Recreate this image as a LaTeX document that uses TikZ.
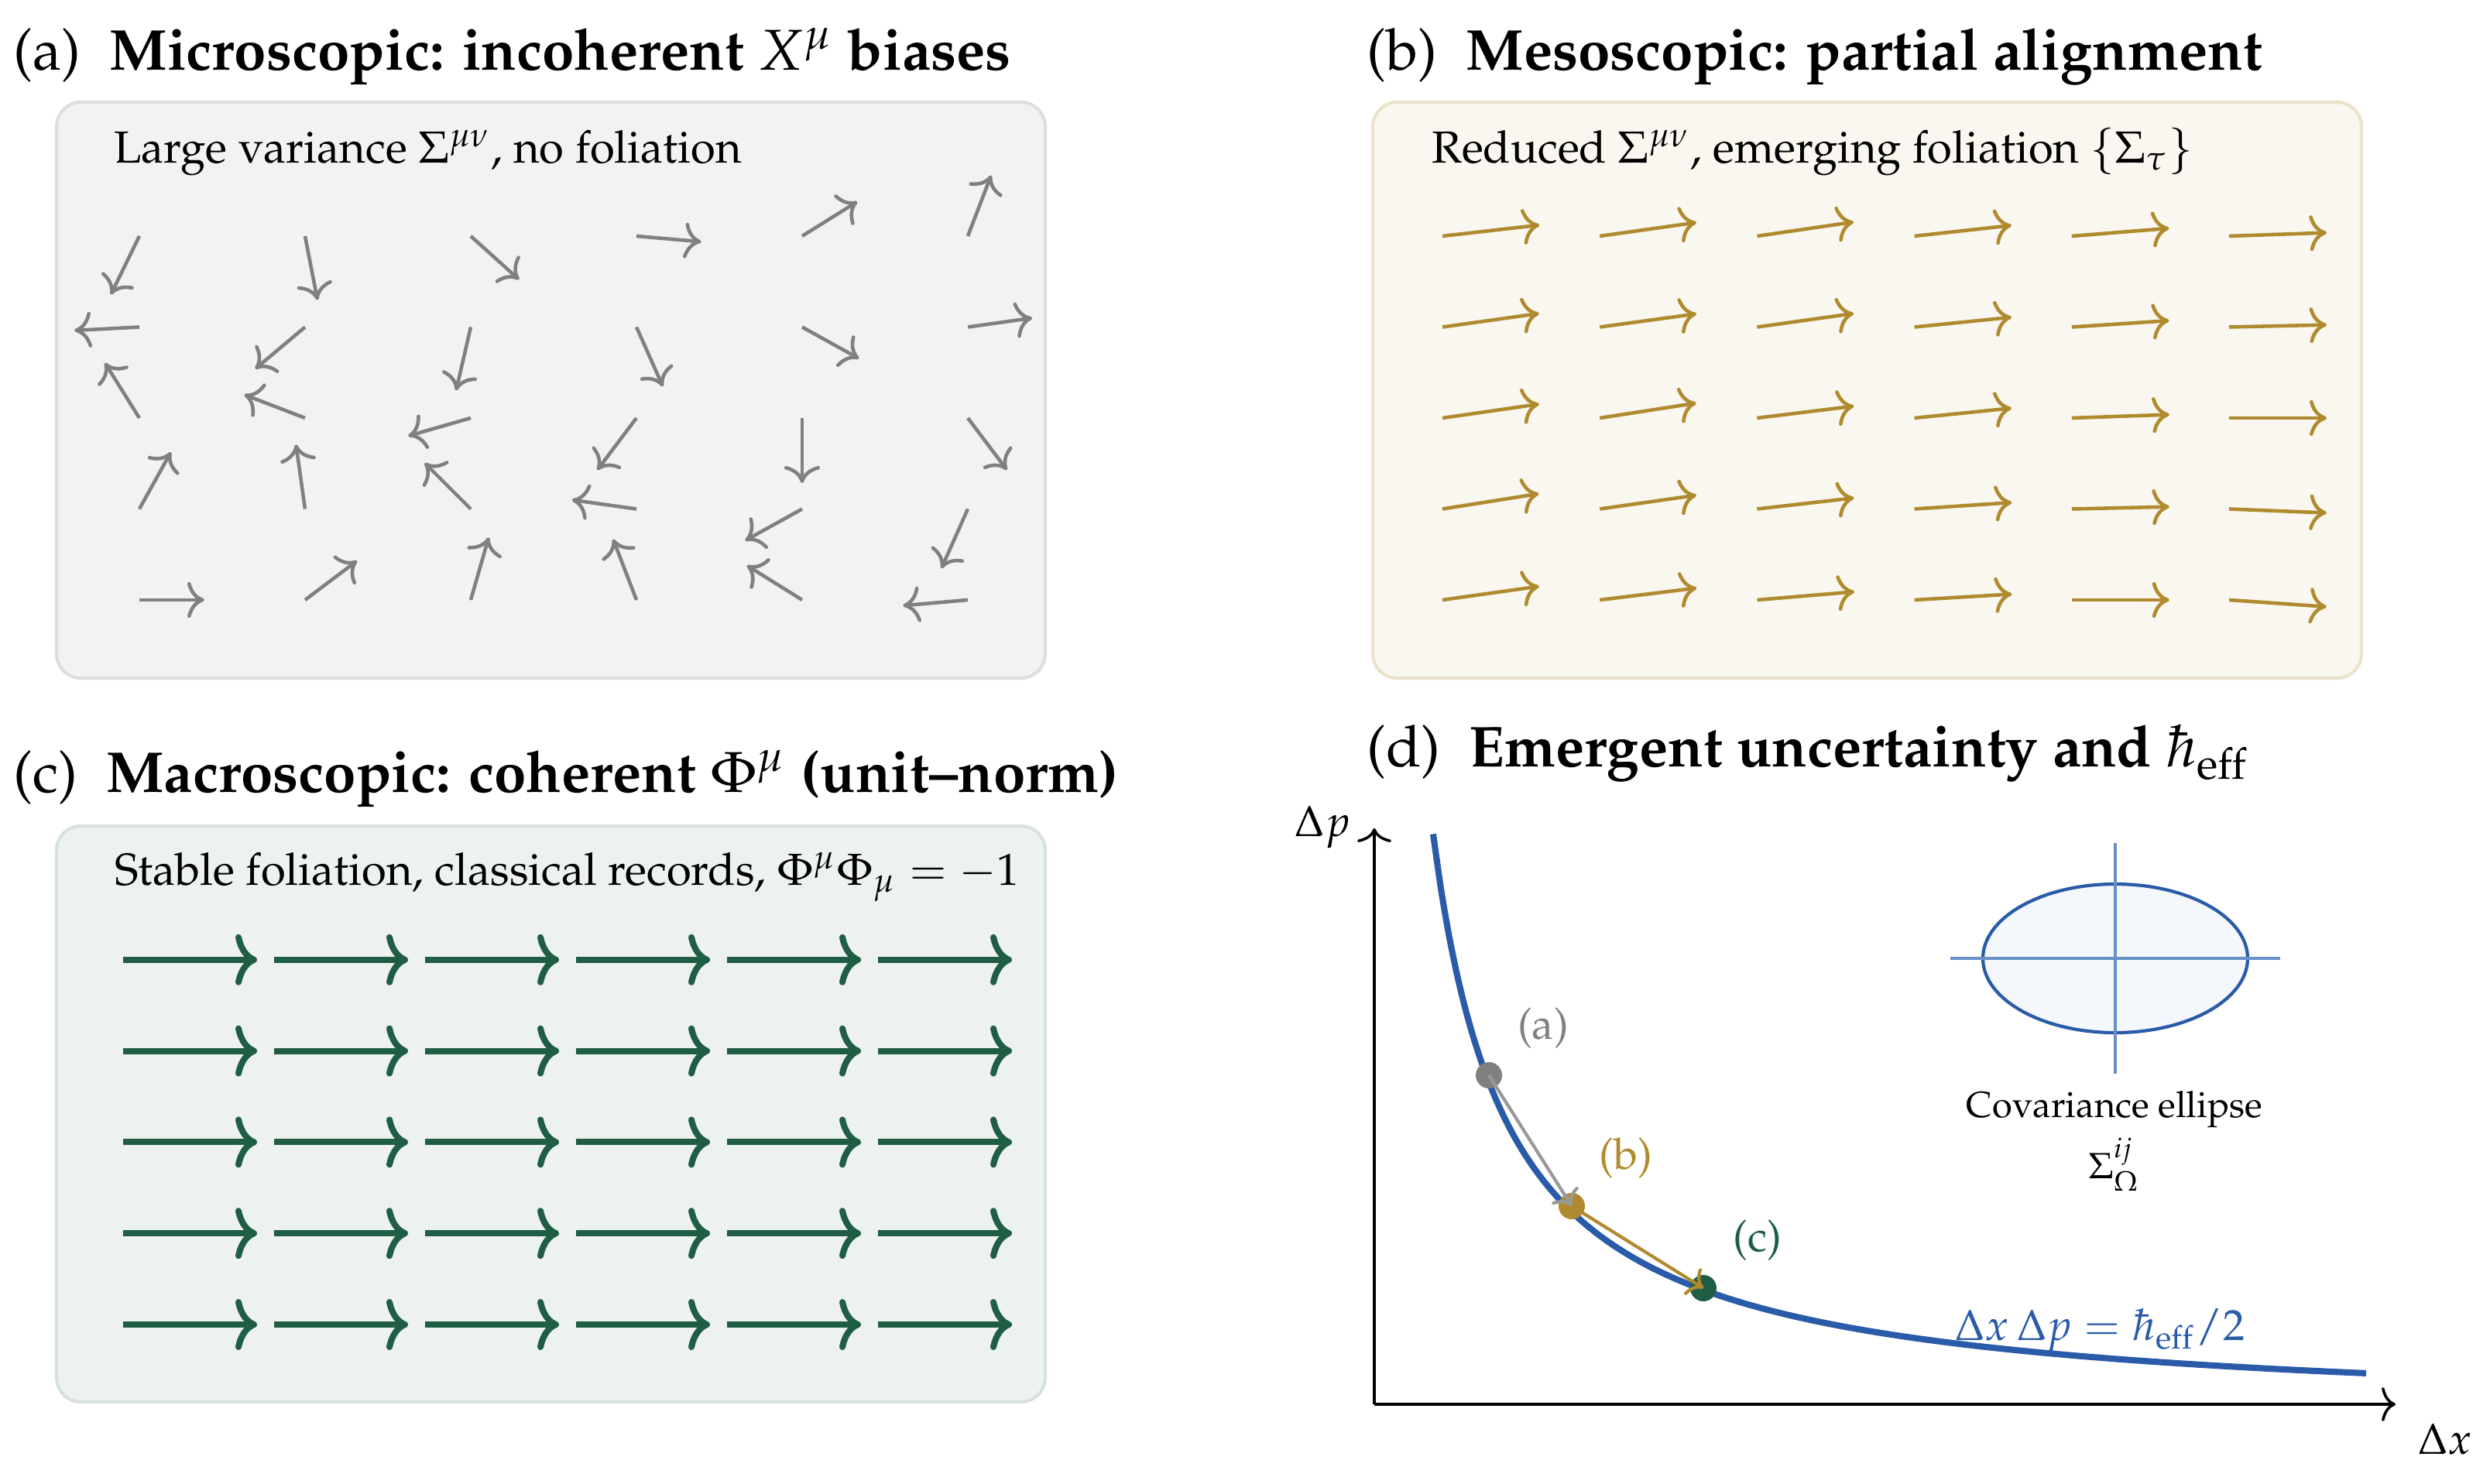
\documentclass[tikz,border=0pt]{standalone}
\usepackage[T1]{fontenc}
\usepackage{mathpazo}
\usetikzlibrary{arrows.meta, positioning}
\usepackage{xcolor}

\definecolor{micro}{HTML}{808080}
\definecolor{meso}{HTML}{B08A2E}
\definecolor{macro}{HTML}{1F5E44}
\definecolor{heff}{HTML}{2A5BA8}
\definecolor{heffaxis}{HTML}{6890C8}

\begin{document}
\begin{tikzpicture}[
        panel/.style={rounded corners=4.5pt, line width=0.6pt},
        title/.style={anchor=west, inner sep=0pt, font=\fontsize{10.6}{12}\selectfont},
        note/.style={anchor=base west, inner sep=0pt, font=\fontsize{8.25}{10}\selectfont},
        micro arrow/.style={-{To[length=0.11cm, width=0.23cm]}, line width=0.65pt, micro},
        meso arrow/.style={-{To[length=0.11cm, width=0.23cm]}, line width=0.65pt, meso},
        macro arrow/.style={-{To[length=0.14cm, width=0.33cm]}, line width=1.15pt, macro},
        axis/.style={-{To[length=0.09cm, width=0.22cm]}, line width=0.5pt},
        dot/.style={circle, inner sep=0pt, minimum size=0.17cm},
        tag/.style={anchor=base, font=\fontsize{8}{10}\selectfont},
        small tag/.style={anchor=base, font=\fontsize{6.7}{8}\selectfont}
    ]
        \useasboundingbox (0,0) rectangle (16.08,9.58);

        % (a) microscopic
        \node[title] (ta) at (0.08,9.215) {(a)\enspace\textbf{Microscopic: incoherent $X^{\mu}$ biases}};
        \draw[panel, draw=black!13, fill=black!5] (0.365,5.2) rectangle (6.75,8.92);
        \node[note] (na) at (0.73,8.525) {Large variance $\Sigma^{\mu\nu}$, no foliation};
        \foreach \i in {0,...,5}
            \foreach \j in {0,...,4}
                \draw[micro arrow] (0.9+1.07*\i, 5.705+0.5875*\j) -- ++(37*\i+61*\j:0.42);

        % (b) mesoscopic
        \node[title] (tb) at (8.82,9.215) {(b)\enspace\textbf{Mesoscopic: partial alignment}};
        \draw[panel, draw=meso!25, fill=meso!7] (8.865,5.2) rectangle (15.25,8.92);
        \node[note] (nb) at (9.24,8.525) {Reduced $\Sigma^{\mu\nu}$, emerging foliation $\{\Sigma_{\tau}\}$};
        \foreach \a [count=\k from 0] in {8,7,4.8,3.4,0,-4,
                                         9,8.1,6.5,3.8,1.3,-2.3,
                                         8.2,8.8,7,5.8,2,0,
                                         8,7.8,8,5.8,3.8,1.3,
                                         6.5,8,8.3,6.3,4.6,2}
            \draw[meso arrow] ({9.315+1.016*mod(\k,6)}, {5.705+0.5875*int(\k/6)}) -- ++(\a:0.63);

        % (c) macroscopic
        \node[title] (tc) at (0.08,4.55) {(c)\enspace\textbf{Macroscopic: coherent $\Phi^{\mu}$ (unit--norm)}};
        \draw[panel, draw=macro!18, fill=macro!8] (0.365,0.525) rectangle (6.75,4.245);
        \node[note] (nc) at (0.735,3.86) {Stable foliation, classical records, $\Phi^{\mu}\Phi_{\mu}=-1$};
        \foreach \i in {0,...,5}
            \foreach \j in {0,...,4}
                \draw[macro arrow] (0.795+0.975*\i, 1.025+0.589*\j) -- ++(0.865,0);

        % (d) uncertainty
        \node[title] (td) at (8.82,4.715) {(d)\enspace\textbf{Emergent uncertainty and $\hbar_{\mathrm{eff}}$}};
        \coordinate (O) at (8.875,0.51);
        \coordinate (xend) at (15.47,0.51);
        \coordinate (yend) at (8.875,4.23);
        \draw[axis] (O) -- (xend);
        \draw[axis] (O) -- (yend);
        \node[tag] (dx) at (15.79,0.19) {$\Delta x$};
        \node[tag] (dp) at (8.54,4.175) {$\Delta p$};
        \draw[heff, line width=1.15pt, domain=0.375:6.4, samples=120, smooth]
            plot ({8.88+\x}, {0.43+1.825/(\x+0.11)});
        \node[tag, heff] (rel) at (13.56,0.925) {$\Delta x\,\Delta p=\hbar_{\mathrm{eff}}/2$};

        % covariance ellipse
        \draw[heff, line width=0.6pt, fill=heff!5] (13.66,3.39) ellipse [x radius=0.855, y radius=0.48];
        \draw[heffaxis, line width=0.5pt] (12.595,3.39) -- (14.725,3.39);
        \draw[heffaxis, line width=0.5pt] (13.66,2.645) -- (13.66,4.135);
        \node[small tag] (cov) at (13.655,2.365) {Covariance ellipse};
        \node[small tag] (sig) at (13.655,1.97) {$\Sigma^{ij}_{\Omega}$};

        % flow (a) -> (b) -> (c)
        \node[dot, fill=micro] (pa) at (9.615,2.635) {};
        \node[dot, fill=meso] (pb) at (10.15,1.79) {};
        \node[dot, fill=macro] (pc) at (11.0,1.26) {};
        \draw[-{To[length=0.09cm, width=0.2cm]}, line width=0.6pt, black!40] (pa.center) -- (pb.center);
        \draw[-{To[length=0.09cm, width=0.2cm]}, line width=0.6pt, meso] (pb.center) -- (pc.center);
        \node[tag, micro] (la) at (9.965,2.87) {(a)};
        \node[tag, meso] (lb) at (10.5,2.03) {(b)};
        \node[tag, macro] (lc) at (11.35,1.5) {(c)};
    \end{tikzpicture}
\end{document}
